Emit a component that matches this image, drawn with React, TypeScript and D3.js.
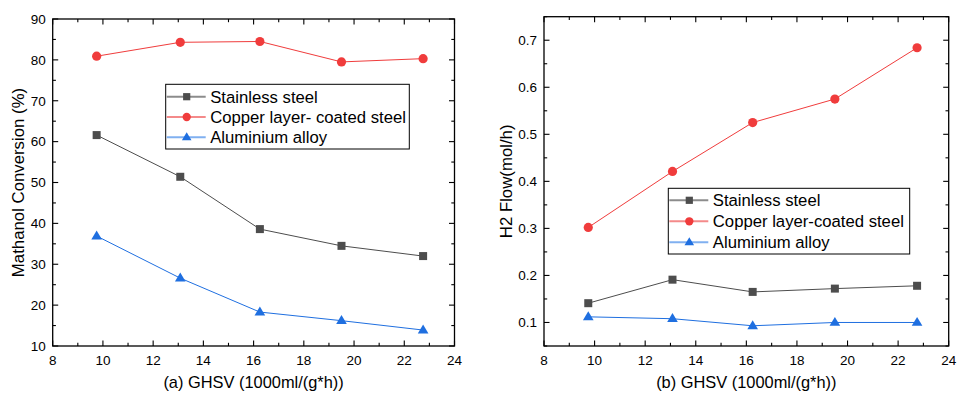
import React from "react";
import * as d3 from "d3";

const ghsv = [9.75, 13.08, 16.25, 19.5, 22.75];

const convStainless = [61.6, 51.4, 38.6, 34.5, 32.0];
const convCopper = [80.9, 84.3, 84.5, 79.5, 80.3];
const convAluminium = [36.9, 26.6, 18.3, 16.2, 13.9];

const flowStainless = [0.141, 0.191, 0.165, 0.172, 0.178];
const flowCopper = [0.302, 0.421, 0.525, 0.575, 0.684];
const flowAluminium = [0.112, 0.108, 0.093, 0.1, 0.1];

const xTicks = [8, 10, 12, 14, 16, 18, 20, 22, 24];
const convTicks = [10, 20, 30, 40, 50, 60, 70, 80, 90];
const flowTicks = [0.1, 0.2, 0.3, 0.4, 0.5, 0.6, 0.7];

const namesA = ["Stainless steel", "Copper layer- coated steel", "Aluminium alloy"];
const namesB = ["Stainless steel", "Copper layer-coated steel", "Aluminium alloy"];

const COLORS = ["#4d4d4d", "#f03c3c", "#1f6fe0"];
const LEGEND_LINE = ["#8c8c8c", "#f48a8a", "#80b0f0"];
const FONT = "'Liberation Sans', Arial, sans-serif";

function Marker({ kind, x, y, color, s = 1 }: { kind: number; x: number; y: number; color: string; s?: number }) {
  if (kind === 0) {
    const h = 4 * s;
    return <rect x={x - h} y={y - h} width={2 * h} height={2 * h} fill={color} />;
  }
  if (kind === 1) return <circle cx={x} cy={y} r={4.6 * s} fill={color} />;
  const r = 5.6 * s;
  const p = [
    [x, y - r],
    [x + r * 0.95, y + r * 0.6],
    [x - r * 0.95, y + r * 0.6],
  ];
  return <polygon points={p.map((q) => q.join(",")).join(" ")} fill={color} />;
}

type PanelProps = {
  x0: number;
  x1: number;
  y0: number;
  y1: number;
  yDomain: [number, number];
  yTicks: number[];
  yMinorStep: number;
  yFmt: (v: number) => string;
  series: number[][];
  names: string[];
  legend: { left: number; top: number; right: number; bottom: number; rows: number[] };
  xLabel: string;
  yLabel: string;
  yLabelX: number;
};

function Panel(p: PanelProps) {
  const xs = d3.scaleLinear().domain([8, 24]).range([p.x0, p.x1]);
  const ys = d3.scaleLinear().domain(p.yDomain).range([p.y1, p.y0]);
  const xMinor = d3.range(9, 24, 2);
  const yMinor: number[] = [];
  for (let v = p.yDomain[0]; v <= p.yDomain[1] + 1e-9; v += p.yMinorStep) {
    const isMajor = p.yTicks.some((t) => Math.abs(t - v) < 1e-6);
    if (!isMajor) yMinor.push(v);
  }
  const line = d3
    .line<number>()
    .x((_, i) => xs(ghsv[i]))
    .y((d) => ys(d));
  const M = 5.5;
  const m = 3.2;
  return (
    <g>
      {p.series.map((s, k) => (
        <path key={"l" + k} d={line(s) || ""} fill="none" stroke={COLORS[k]} strokeWidth={1} />
      ))}
      {p.series.map((s, k) =>
        s.map((v, i) => <Marker key={"m" + k + "-" + i} kind={k} x={xs(ghsv[i])} y={ys(v)} color={COLORS[k]} />)
      )}
      {xTicks.map((t) => (
        <g key={"xt" + t}>
          <line x1={xs(t)} x2={xs(t)} y1={p.y1} y2={p.y1 - M} stroke="#000" strokeWidth={1.1} />
          <line x1={xs(t)} x2={xs(t)} y1={p.y0} y2={p.y0 + M} stroke="#000" strokeWidth={1.1} />
          <text x={xs(t)} y={p.y1 + 19} textAnchor="middle" fontSize={13.5} fontFamily={FONT} fill="#000">
            {t}
          </text>
        </g>
      ))}
      {xMinor.map((t) => (
        <g key={"xm" + t}>
          <line x1={xs(t)} x2={xs(t)} y1={p.y1} y2={p.y1 - m} stroke="#000" strokeWidth={1.1} />
          <line x1={xs(t)} x2={xs(t)} y1={p.y0} y2={p.y0 + m} stroke="#000" strokeWidth={1.1} />
        </g>
      ))}
      {p.yTicks.map((t) => (
        <g key={"yt" + t}>
          <line x1={p.x0} x2={p.x0 + M} y1={ys(t)} y2={ys(t)} stroke="#000" strokeWidth={1.1} />
          <line x1={p.x1} x2={p.x1 - M} y1={ys(t)} y2={ys(t)} stroke="#000" strokeWidth={1.1} />
          <text x={p.x0 - 7} y={ys(t) + 4.8} textAnchor="end" fontSize={13.5} fontFamily={FONT} fill="#000">
            {p.yFmt(t)}
          </text>
        </g>
      ))}
      {yMinor.map((t, i) => (
        <g key={"ym" + i}>
          <line x1={p.x0} x2={p.x0 + m} y1={ys(t)} y2={ys(t)} stroke="#000" strokeWidth={1.1} />
          <line x1={p.x1} x2={p.x1 - m} y1={ys(t)} y2={ys(t)} stroke="#000" strokeWidth={1.1} />
        </g>
      ))}
      <rect x={p.x0} y={p.y0} width={p.x1 - p.x0} height={p.y1 - p.y0} fill="none" stroke="#000" strokeWidth={1.3} />
      <rect
        x={p.legend.left}
        y={p.legend.top}
        width={p.legend.right - p.legend.left}
        height={p.legend.bottom - p.legend.top}
        fill="#fff"
        stroke="#000"
        strokeWidth={1}
      />
      {p.names.map((n, k) => {
        const yy = p.legend.rows[k];
        const lx = p.legend.left;
        return (
          <g key={"lg" + k}>
            <line x1={lx + 1} x2={lx + 40} y1={yy} y2={yy} stroke={LEGEND_LINE[k]} strokeWidth={2} />
            <Marker kind={k} x={lx + 21} y={yy} color={COLORS[k]} s={0.9} />
            <text x={lx + 44.5} y={yy + 6} fontSize={16.7} fontFamily={FONT} fill="#000">
              {n}
            </text>
          </g>
        );
      })}
      <text x={(p.x0 + p.x1) / 2} y={388} textAnchor="middle" fontSize={16.4} fontFamily={FONT} fill="#000">
        {p.xLabel}
      </text>
      <text
        transform={`translate(${p.yLabelX},${(p.y0 + p.y1) / 2}) rotate(-90)`}
        textAnchor="middle"
        fontSize={16.8}
        fontFamily={FONT}
        fill="#000"
      >
        {p.yLabel}
      </text>
    </g>
  );
}

export default function App() {
  return (
    <svg
      width={957}
      height={394}
      style={{ position: "absolute", left: 0, top: 0, background: "#fff" }}
      xmlns="http://www.w3.org/2000/svg"
    >
      <rect width={957} height={394} fill="#fff" />
      <Panel
        x0={52.7}
        x1={454.5}
        y0={19}
        y1={346}
        yDomain={[10, 90]}
        yTicks={convTicks}
        yMinorStep={5}
        yFmt={(v) => String(v)}
        series={[convStainless, convCopper, convAluminium]}
        names={namesA}
        legend={{ left: 165.7, top: 84.3, right: 409.3, bottom: 149, rows: [96.7, 117, 137.3] }}
        xLabel="(a) GHSV (1000ml/(g*h))"
        yLabel="Mathanol Conversion (%)"
        yLabelX={24}
      />
      <Panel
        x0={544}
        x1={948.7}
        y0={16.7}
        y1={346}
        yDomain={[0.05, 0.75]}
        yTicks={flowTicks}
        yMinorStep={0.05}
        yFmt={(v) => v.toFixed(1)}
        series={[flowStainless, flowCopper, flowAluminium]}
        names={namesB}
        legend={{ left: 668.3, top: 188.3, right: 909.7, bottom: 254, rows: [200.3, 221.3, 242.3] }}
        xLabel="(b) GHSV (1000ml/(g*h))"
        yLabel="H2 Flow(mol/h)"
        yLabelX={512}
      />
    </svg>
  );
}
